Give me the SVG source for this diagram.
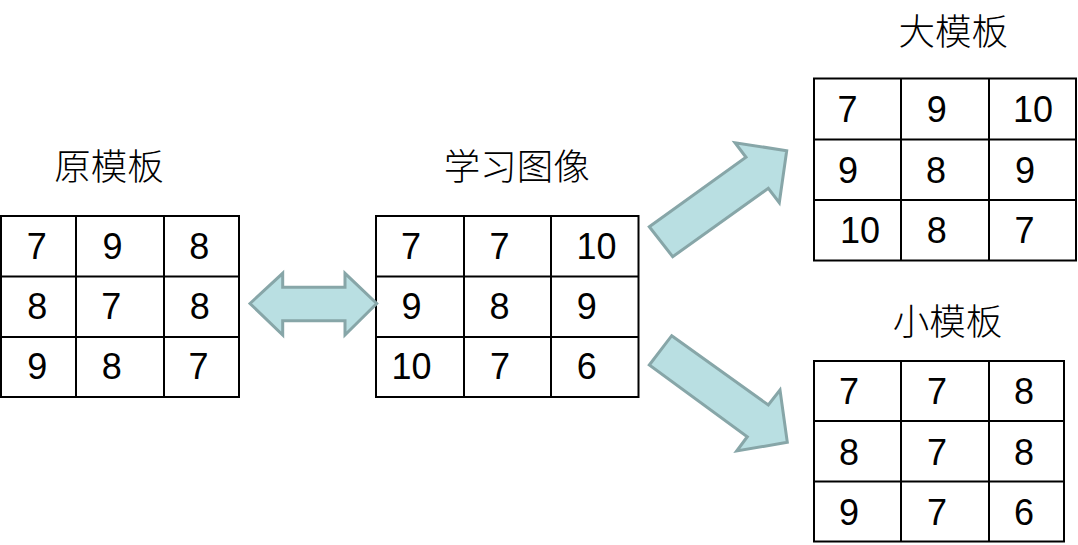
<svg xmlns="http://www.w3.org/2000/svg" width="1078" height="545" viewBox="0 0 1078 545">
<style>
.bg{fill:#ffffff}
.grid{fill:none;stroke:#000000;stroke-width:2}
.num{font-family:"Liberation Sans",Arial,sans-serif;font-size:36px;fill:#000000;text-anchor:middle}
.title{font-family:"Noto Sans CJK SC","Noto Sans CJK JP",sans-serif;font-size:36.5px;font-weight:300;fill:#000000;text-anchor:middle}
.arrow{fill:#b9dfe2;stroke:#87a6a8;stroke-width:3;stroke-linejoin:miter}
</style>
<rect class="bg" x="0" y="0" width="1078" height="545"/>

<g id="original-template">
  <text class="title" x="109" y="179.5">原模板</text>
  <rect class="grid" x="1" y="216" width="238" height="181"/>
  <path class="grid" d="M76 216V397M164 216V397M1 276.5H239M1 337H239"/>
  <text class="num" x="36.7" y="258.5">7</text>
  <text class="num" x="112.5" y="258.5">9</text>
  <text class="num" x="199.2" y="258.5">8</text>
  <text class="num" x="37.2" y="318.5">8</text>
  <text class="num" x="111.2" y="318.5">7</text>
  <text class="num" x="199.7" y="318.5">8</text>
  <text class="num" x="37.2" y="379">9</text>
  <text class="num" x="111.7" y="379">8</text>
  <text class="num" x="198.5" y="379">7</text>
</g>

<g id="learning-image">
  <text class="title" x="516.7" y="179.5">学习图像</text>
  <rect class="grid" x="376" y="216" width="262.5" height="181"/>
  <path class="grid" d="M464 216V397M551 216V397M376 276.5H638.5M376 337H638.5"/>
  <text class="num" x="411" y="258.5">7</text>
  <text class="num" x="499.5" y="258.5">7</text>
  <text class="num" x="596.5" y="258.5">10</text>
  <text class="num" x="411.5" y="318.5">9</text>
  <text class="num" x="499.5" y="318.5">8</text>
  <text class="num" x="586.7" y="318.5">9</text>
  <text class="num" x="411.5" y="379">10</text>
  <text class="num" x="500" y="379">7</text>
  <text class="num" x="586.7" y="379">6</text>
</g>

<g id="large-template">
  <text class="title" x="953.3" y="44.5">大模板</text>
  <rect class="grid" x="814" y="78.5" width="262" height="182"/>
  <path class="grid" d="M901 78.5V260.5M989 78.5V260.5M814 139.5H1076M814 200H1076"/>
  <text class="num" x="847.5" y="121.5">7</text>
  <text class="num" x="936.7" y="121.5">9</text>
  <text class="num" x="1033" y="121.5">10</text>
  <text class="num" x="848" y="183">9</text>
  <text class="num" x="936" y="183">8</text>
  <text class="num" x="1025" y="183">9</text>
  <text class="num" x="860" y="243">10</text>
  <text class="num" x="936.7" y="243">8</text>
  <text class="num" x="1024.5" y="243">7</text>
</g>

<g id="small-template">
  <text class="title" x="947.5" y="334.5">小模板</text>
  <rect class="grid" x="814" y="361" width="250" height="180.5"/>
  <path class="grid" d="M901 361V541.5M989 361V541.5M814 421H1064M814 481.5H1064"/>
  <text class="num" x="849" y="403.5">7</text>
  <text class="num" x="937" y="403.5">7</text>
  <text class="num" x="1024" y="403.5">8</text>
  <text class="num" x="849" y="465">8</text>
  <text class="num" x="937" y="465">7</text>
  <text class="num" x="1024" y="465">8</text>
  <text class="num" x="849" y="525">9</text>
  <text class="num" x="937" y="525">7</text>
  <text class="num" x="1024" y="525">6</text>
</g>

<g id="connectors">
  <polygon class="arrow" points="250,303.5 282.7,273.3 282.7,287.3 345,287.3 345,273.3 376.7,303.5 345,335 345,320.7 282.7,320.7 282.7,335"/>
  <polygon class="arrow" points="649.3,226.7 746,157.3 735,142.7 786.7,150.7 779.3,202.7 768.3,188.3 672.7,256.7"/>
  <polygon class="arrow" points="671.7,335.7 768.3,405 780,390 787.3,442.3 736.7,451 747.3,436.7 649.3,365"/>
</g>
</svg>
